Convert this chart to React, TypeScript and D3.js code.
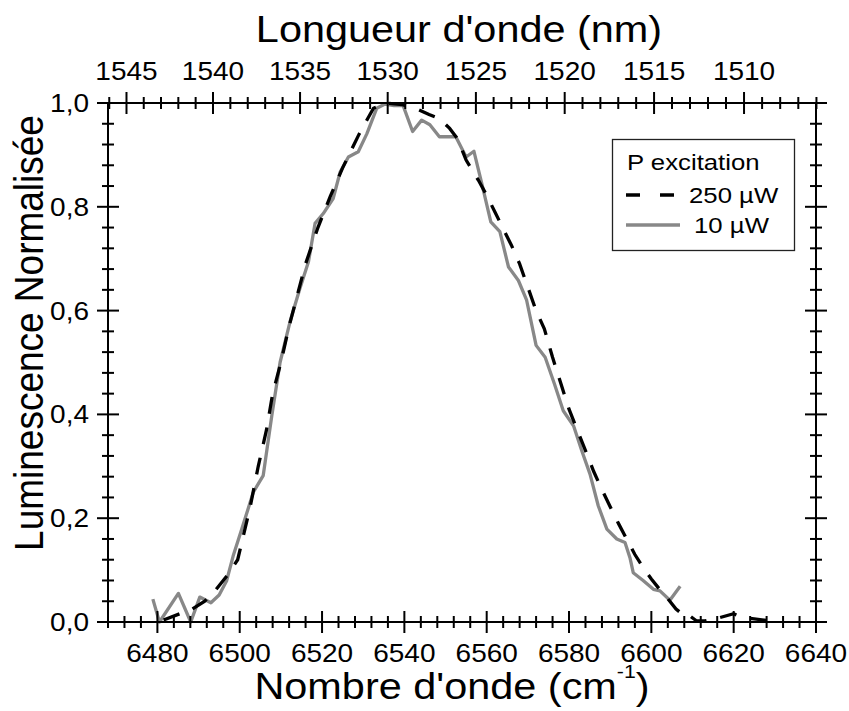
import * as d3 from 'd3';

// 250 µW (dashed black)
const wn250 = [6481.5, 6485.5, 6488.5, 6491.5, 6494, 6497, 6499.5, 6502.5, 6504.5, 6506.5, 6508, 6510, 6512, 6514, 6516, 6519, 6522, 6525, 6529, 6532.5, 6535.5, 6539.5, 6543.5, 6546, 6548.5, 6551, 6553, 6555, 6558, 6560, 6562, 6564, 6566, 6568, 6570, 6572, 6574, 6576, 6578, 6580, 6582, 6584, 6586, 6588, 6590, 6592, 6594, 6596, 6598, 6600, 6602, 6604, 6606, 6608, 6609, 6611, 6613, 6616, 6620, 6622, 6625, 6629];
const lum250 = [0.004, 0.016, 0.025, 0.04, 0.06, 0.09, 0.12, 0.22, 0.3, 0.37, 0.44, 0.5, 0.57, 0.63, 0.69, 0.76, 0.82, 0.875, 0.94, 0.99, 1.0, 0.997, 0.987, 0.978, 0.97, 0.951, 0.93, 0.89, 0.851, 0.822, 0.79, 0.758, 0.726, 0.69, 0.645, 0.6, 0.565, 0.51, 0.46, 0.41, 0.37, 0.33, 0.29, 0.255, 0.222, 0.19, 0.16, 0.13, 0.105, 0.083, 0.063, 0.045, 0.025, 0.012, 0.014, 0.002, 0.002, 0.007, 0.016, 0.009, 0.006, 0.002];

// 10 µW (solid grey)
const wn10 = [6478.9, 6480.5, 6485.1, 6488.1, 6490.3, 6493, 6495, 6496.8, 6498.4, 6500.5, 6503.3, 6505.7, 6507.8, 6509.8, 6512.2, 6514.6, 6516.7, 6518.3, 6520.3, 6522.7, 6524.4, 6526.4, 6528.8, 6530.9, 6533.3, 6535.3, 6537.5, 6539.7, 6542, 6544.2, 6546.2, 6548.5, 6552.5, 6555, 6556.9, 6558.8, 6561, 6563.2, 6565.3, 6567.7, 6569.7, 6572, 6574.2, 6576.4, 6578.6, 6581.1, 6583.1, 6585.1, 6587.1, 6589.2, 6591.6, 6593.6, 6594.8, 6595.6, 6598, 6600.5, 6602.1, 6604.5, 6607];
const lum10 = [0.044, 0.0, 0.055, 0.0, 0.048, 0.037, 0.052, 0.079, 0.127, 0.179, 0.25, 0.282, 0.398, 0.5, 0.578, 0.642, 0.694, 0.768, 0.787, 0.816, 0.867, 0.896, 0.906, 0.941, 0.99, 0.998, 0.995, 0.995, 0.945, 0.967, 0.958, 0.935, 0.935, 0.896, 0.907, 0.845, 0.771, 0.752, 0.684, 0.658, 0.62, 0.533, 0.51, 0.46, 0.407, 0.378, 0.33, 0.285, 0.224, 0.179, 0.16, 0.153, 0.124, 0.095, 0.08, 0.063, 0.06, 0.042, 0.069];

const bottomTicks = [6480, 6500, 6520, 6540, 6560, 6580, 6600, 6620, 6640];
const leftTicks = [0, 0.2, 0.4, 0.6, 0.8, 1.0];
const topTicks = [1545, 1540, 1535, 1530, 1525, 1520, 1515, 1510];

const FONT = '"Liberation Sans", Arial, sans-serif';
const SX = 1.12;

function T({ x, y, size, anchor = 'middle', children }) {
    return (
        <g transform={`translate(${x},${y}) scale(${SX},1)`}>
            <text x={0} y={0} fontSize={size} textAnchor={anchor} fontFamily={FONT} fill="#000">
                {children}
            </text>
        </g>
    );
}

export default function App() {
    const width = 849;
    const height = 711;
    const left = 108, right = 816, top = 103, bottom = 622;

    const x = d3.scaleLinear().domain([6468, 6640]).range([left, right]);
    const y = d3.scaleLinear().domain([0, 1]).range([bottom, top]);

    const line = d3
        .line()
        .x((d) => x(d[0]))
        .y((d) => y(d[1]));

    const d250 = line(wn250.map((w, i) => [w, lum250[i]]));
    const d10 = line(wn10.map((w, i) => [w, lum10[i]]));

    const xMinor = d3.range(6468, 6640.01, 4);
    const yMinor = d3.range(0, 1.0001, 0.04);
    const nmMinor = d3.range(1506, 1547, 1).filter((l) => {
        const w = 1e7 / l;
        return w >= 6467.9 && w <= 6640.5;
    });

    const big = 11, small = 6;

    return (
        <svg width={width} height={height} style={{ position: 'absolute', left: 0, top: 0, background: '#fff' }}>
            <rect x={0} y={0} width={width} height={height} fill="#fff" />

            {/* curves */}
            <path d={d10} fill="none" stroke="#888" strokeWidth={3.3} strokeLinejoin="round" />
            <path d={d250} fill="none" stroke="#000" strokeWidth={3.3} strokeDasharray="17,14" />

            {/* frame */}
            <rect x={left} y={top} width={right - left} height={bottom - top} fill="none" stroke="#000" strokeWidth={2} />

            {/* bottom ticks for wavenumber */}
            {xMinor.map((v, i) => {
                const isMajor = bottomTicks.includes(Math.round(v));
                const h = isMajor ? big : small;
                return <line key={'bx' + i} x1={x(v)} x2={x(v)} y1={bottom - h} y2={bottom + h} stroke="#000" strokeWidth={2} />;
            })}

            {/* top axis: wavelength */}
            {nmMinor.map((l, i) => {
                const isMajor = l % 5 === 0;
                const h = isMajor ? big : small;
                const px = x(1e7 / l);
                return <line key={'tx' + i} x1={px} x2={px} y1={top - h} y2={top + h} stroke="#000" strokeWidth={2} />;
            })}

            {/* left + right ticks */}
            {yMinor.map((v, i) => {
                const isMajor = Math.abs(v * 5 - Math.round(v * 5)) < 1e-6;
                const h = isMajor ? big : small;
                return (
                    <g key={'y' + i}>
                        <line x1={left - h} x2={left + h} y1={y(v)} y2={y(v)} stroke="#000" strokeWidth={2} />
                        <line x1={right - h} x2={right + h} y1={y(v)} y2={y(v)} stroke="#000" strokeWidth={2} />
                    </g>
                );
            })}

            {/* tick labels */}
            {bottomTicks.map((v) => (
                <T key={'bl' + v} x={x(v)} y={662} size={25}>{v}</T>
            ))}
            {topTicks.map((l) => (
                <T key={'tl' + l} x={x(1e7 / l)} y={80} size={25}>{l}</T>
            ))}
            {leftTicks.map((v) => (
                <T key={'ll' + v} x={89} y={y(v) + 9} size={25} anchor="end">{v.toFixed(1).replace('.', ',')}</T>
            ))}

            {/* axis titles */}
            <T x={459} y={42} size={37}>Longueur d'onde (nm)</T>
            <g transform={`translate(452,699) scale(${SX},1)`}>
                <text x={0} y={0} fontSize={37} textAnchor="middle" fontFamily={FONT}>
                    Nombre d'onde (cm<tspan fontSize={19} dy={-21}>-1</tspan><tspan dy={21}>)</tspan>
                </text>
            </g>
            <g transform={`translate(43,333) scale(${SX},1) rotate(-90)`}>
                <text x={0} y={0} fontSize={37} textAnchor="middle" fontFamily={FONT}>
                    Luminescence Normalisée
                </text>
            </g>

            {/* legend */}
            <rect x={612.5} y={139.5} width={182} height={111} fill="#fff" stroke="#222" strokeWidth={1.3} />
            <T x={627} y={170} size={23} anchor="start">P excitation</T>
            <line x1={626} x2={678} y1={195} y2={195} stroke="#000" strokeWidth={3.3} strokeDasharray="14,20" />
            <T x={689} y={203} size={23} anchor="start">250 µW</T>
            <line x1={626} x2={680} y1={225} y2={225} stroke="#888" strokeWidth={3.3} />
            <T x={694} y={233} size={23} anchor="start">10 µW</T>
        </svg>
    );
}
